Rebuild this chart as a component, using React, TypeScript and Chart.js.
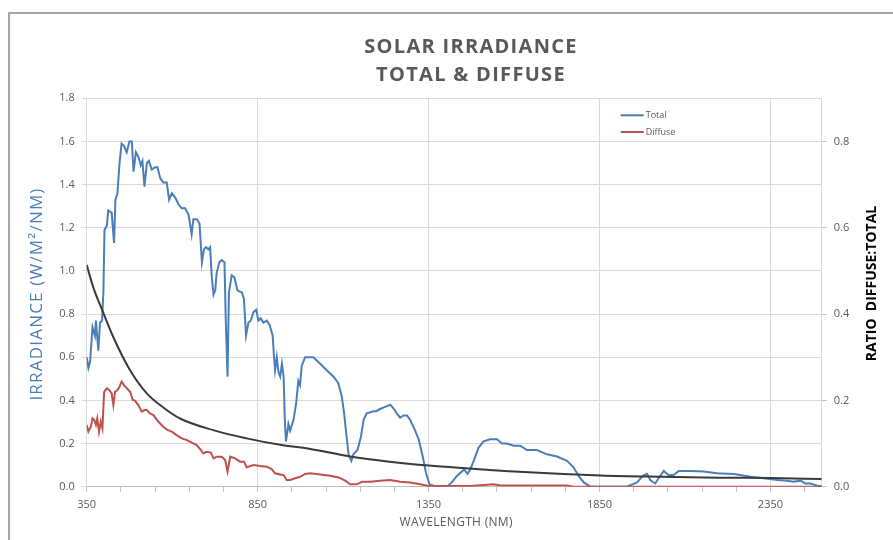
import React, { useEffect, useRef } from 'react';
import { Chart, registerables } from 'chart.js';

Chart.register(...registerables);

// ---- data ----
const totalWavelength = [
  350, 355, 360, 367, 374, 377, 384, 389, 395, 399, 402, 409, 413, 423, 430, 434, 440, 446, 452, 459,
  467, 475, 482, 487, 494, 501, 508, 513, 519, 526, 532, 540, 550, 557, 565, 574, 584, 591, 599, 609,
  618, 628, 638, 648, 657, 662, 672, 680, 687, 693, 699, 706, 711, 716, 721, 726, 730, 738, 745, 753,
  757, 762, 766, 774, 782, 791, 804, 810, 816, 823, 830, 838, 846, 852, 859, 867, 877, 885, 894, 898,
  901, 906, 911, 916, 921, 926, 930, 933, 940, 945, 955, 963, 969, 974, 979, 989, 999, 1013, 1033, 1052,
  1072, 1086, 1096, 1103, 1109, 1116, 1124, 1130, 1142, 1152, 1160, 1169, 1189, 1197, 1208, 1223, 1238, 1249, 1257, 1267,
  1277, 1287, 1296, 1308, 1321, 1333, 1343, 1353, 1374, 1404, 1418, 1433, 1454, 1464, 1472, 1482, 1496, 1511, 1530, 1550,
  1565, 1579, 1599, 1618, 1638, 1667, 1696, 1726, 1755, 1774, 1789, 1804, 1823, 1900, 1930, 1960, 1977, 1989, 1999, 2013,
  2026, 2038, 2052, 2067, 2082, 2116, 2155, 2194, 2243, 2292, 2331, 2370, 2399, 2418, 2438, 2452, 2467, 2487, 2500,
];
const totalIrradiance = [
  0.60, 0.55, 0.58, 0.74, 0.70, 0.77, 0.63, 0.76, 0.77, 0.91, 1.19, 1.21, 1.28, 1.27, 1.13, 1.33, 1.36, 1.50, 1.59, 1.58,
  1.55, 1.60, 1.60, 1.46, 1.55, 1.53, 1.49, 1.51, 1.39, 1.50, 1.51, 1.47, 1.48, 1.48, 1.43, 1.41, 1.41, 1.33, 1.36, 1.34,
  1.31, 1.29, 1.29, 1.26, 1.17, 1.24, 1.24, 1.22, 1.04, 1.10, 1.11, 1.10, 1.11, 0.97, 0.89, 0.91, 0.99, 1.04, 1.05, 1.04,
  0.76, 0.51, 0.90, 0.98, 0.97, 0.91, 0.90, 0.87, 0.70, 0.76, 0.77, 0.81, 0.82, 0.77, 0.78, 0.76, 0.77, 0.75, 0.70, 0.60,
  0.54, 0.60, 0.53, 0.51, 0.57, 0.51, 0.29, 0.21, 0.29, 0.26, 0.31, 0.39, 0.49, 0.47, 0.56, 0.60, 0.60, 0.60, 0.57, 0.54,
  0.51, 0.48, 0.42, 0.34, 0.25, 0.15, 0.12, 0.15, 0.17, 0.23, 0.31, 0.34, 0.35, 0.35, 0.36, 0.37, 0.38, 0.36, 0.34, 0.32,
  0.33, 0.33, 0.31, 0.27, 0.22, 0.14, 0.06, 0.01, 0.00, 0.00, 0.02, 0.05, 0.08, 0.06, 0.08, 0.12, 0.18, 0.21, 0.22, 0.22,
  0.20, 0.20, 0.19, 0.19, 0.17, 0.17, 0.15, 0.14, 0.12, 0.09, 0.05, 0.02, 0.00, 0.00, 0.00, 0.02, 0.05, 0.06, 0.03, 0.015,
  0.046, 0.073, 0.054, 0.054, 0.073, 0.073, 0.070, 0.062, 0.059, 0.046, 0.039, 0.031, 0.028, 0.023, 0.028, 0.015, 0.015, 0.005, 0.003,
];

const diffuseWavelength = [
  350, 355, 362, 367, 372, 377, 381, 386, 391, 396, 401, 409, 416, 423, 428, 433, 440, 446, 452, 459,
  467, 477, 485, 491, 501, 511, 519, 526, 535, 545, 560, 574, 586, 599, 613, 628, 643, 657, 672, 684,
  691, 701, 713, 721, 730, 745, 755, 762, 770, 784, 799, 810, 818, 838, 857, 877, 891, 901, 916, 926,
  935, 945, 960, 974, 989, 1004, 1033, 1062, 1087, 1106, 1121, 1140, 1155, 1179, 1208, 1238, 1267, 1296, 1326, 1350,
  1472, 1491, 1540, 1560, 1755, 1774, 2500,
];
const diffuseIrradiance = [
  0.286, 0.255, 0.278, 0.317, 0.309, 0.286, 0.317, 0.255, 0.301, 0.270, 0.440, 0.456, 0.448, 0.432, 0.378, 0.440, 0.448, 0.463, 0.487, 0.471,
  0.456, 0.440, 0.402, 0.399, 0.378, 0.348, 0.355, 0.355, 0.340, 0.332, 0.301, 0.278, 0.263, 0.255, 0.239, 0.224, 0.216, 0.204, 0.193, 0.170,
  0.154, 0.162, 0.158, 0.131, 0.139, 0.139, 0.124, 0.070, 0.139, 0.131, 0.116, 0.116, 0.090, 0.100, 0.096, 0.093, 0.082, 0.062, 0.057, 0.054,
  0.031, 0.031, 0.039, 0.046, 0.059, 0.062, 0.057, 0.051, 0.043, 0.028, 0.011, 0.011, 0.023, 0.023, 0.028, 0.031, 0.023, 0.019, 0.011, 0.003,
  0.003, 0.006, 0.011, 0.006, 0.006, 0.0, 0.0,
];

const ratioWavelength = [350, 370, 393, 427, 476, 525, 575, 623, 720, 818, 916, 1000, 1121, 1236, 1351, 1473, 1600, 1854, 2030, 2200, 2353, 2500];
const ratioValues = [0.514, 0.46, 0.414, 0.348, 0.271, 0.217, 0.183, 0.158, 0.131, 0.112, 0.097, 0.088, 0.070, 0.058, 0.049, 0.042, 0.035, 0.026, 0.023, 0.021, 0.020, 0.018];

const titleLines = ['SOLAR IRRADIANCE', 'TOTAL & DIFFUSE'];
const seriesNames = ['Total', 'Diffuse', 'Ratio'];
const xAxisTitle = 'WAVELENGTH (NM)';
const leftAxisTitle = 'IRRADIANCE (W/M²/NM)';
const rightAxisTitle = 'RATIO  DIFFUSE:TOTAL';
const xMin = 350;
const xMax = 2500;
const xMinorStep = 100;
const xMajorStep = 500;
const leftMax = 1.8;
const leftStep = 0.2;
const rightMax = 0.9;
const rightLastTick = 0.8;

const BLUE = '#4a7ebb';
const RED = '#c0504d';
const BLACK = '#3a3a3a';
const GRID = '#d9d9d9';
const TEXT = '#595959';
const FONT = '"Open Sans", "DejaVu Sans", sans-serif';

const W = 883;
const H = 526;

const overlayPlugin = {
  id: 'overlay',
  afterDraw(chart: any) {
    const ctx = chart.ctx as any;
    const a = chart.chartArea;
    ctx.save();
    // Title
    ctx.fillStyle = TEXT;
    ctx.font = `bold 20px ${FONT}`;
    ctx.textAlign = 'center';
    ctx.textBaseline = 'middle';
    ctx.letterSpacing = '1.3px';
    ctx.fillText(titleLines[0], 461, 33);
    ctx.fillText(titleLines[1], 461, 61);
    ctx.letterSpacing = '0px';

    // Legend
    const lx = a.left + 534;
    const ly = a.top + 17;
    ctx.font = `9px ${FONT}`;
    ctx.textAlign = 'left';
    [[seriesNames[0], BLUE], [seriesNames[1], RED]].forEach(([name, col], i) => {
      const y = ly + i * 16.7;
      ctx.strokeStyle = col as string;
      ctx.lineWidth = 2;
      ctx.beginPath();
      ctx.moveTo(lx, y);
      ctx.lineTo(lx + 23, y);
      ctx.stroke();
      ctx.fillStyle = TEXT;
      ctx.fillText(name as string, lx + 25, y);
    });

    // X axis title
    ctx.fillStyle = TEXT;
    ctx.font = `12px ${FONT}`;
    ctx.textAlign = 'center';
    ctx.letterSpacing = '0.3px';
    ctx.fillText(xAxisTitle, (a.left + a.right) / 2 + 2, 509);
    ctx.letterSpacing = '0px';

    // Left axis title
    ctx.save();
    ctx.translate(26.7, 280);
    ctx.rotate(-Math.PI / 2);
    ctx.fillStyle = BLUE;
    ctx.font = `17px ${FONT}`;
    ctx.letterSpacing = '1.2px';
    ctx.fillText(leftAxisTitle, 0, 0);
    ctx.restore();

    // Right axis title
    ctx.save();
    ctx.translate(861.7, 269.5);
    ctx.rotate(-Math.PI / 2);
    ctx.fillStyle = '#000000';
    ctx.font = `bold 14px ${FONT}`;
    ctx.fillText(rightAxisTitle, 0, 0);
    ctx.restore();

    ctx.restore();
  },
};

function toPoints(xs: number[], ys: number[]) {
  return xs.map((x, i) => ({ x, y: ys[i] }));
}

export default function App() {
  const ref = useRef<HTMLCanvasElement | null>(null);

  useEffect(() => {
    document.body.style.overflow = 'hidden';
    if (!ref.current) return;
    const chart = new Chart(ref.current, {
      type: 'line',
      data: {
        datasets: [
          {
            label: seriesNames[0],
            data: toPoints(totalWavelength, totalIrradiance),
            borderColor: BLUE,
            borderWidth: 2,
            pointRadius: 0,
            yAxisID: 'y',
            order: 2,
          },
          {
            label: seriesNames[1],
            data: toPoints(diffuseWavelength, diffuseIrradiance),
            borderColor: RED,
            borderWidth: 2,
            pointRadius: 0,
            yAxisID: 'y',
            order: 1,
          },
          {
            label: seriesNames[2],
            data: toPoints(ratioWavelength, ratioValues),
            borderColor: BLACK,
            borderWidth: 2,
            pointRadius: 0,
            cubicInterpolationMode: 'monotone',
            yAxisID: 'y1',
            order: 0,
          },
        ],
      },
      options: {
        animation: false,
        responsive: false,
        devicePixelRatio: 1,
        layout: { padding: { top: 84.3, left: 0, right: 0, bottom: 0 } },
        plugins: {
          legend: { display: false },
          title: { display: false },
          tooltip: { enabled: false },
        },
        scales: {
          x: {
            type: 'linear',
            min: xMin,
            max: xMax,
            afterBuildTicks: (scale: any) => {
              const t = [];
              for (let v = xMin; v <= xMax; v += xMinorStep) t.push({ value: v });
              scale.ticks = t;
            },
            afterFit: (scale: any) => {
              scale.height = 53.3;
            },
            ticks: {
              autoSkip: false,
              maxRotation: 0,
              padding: 7,
              color: TEXT,
              font: { family: FONT, size: 11 },
              callback: (v: any) => ((v - xMin) % xMajorStep === 0 ? String(v) : ''),
            },
            grid: {
              color: (c: any) =>
                c.tick && (c.tick.value - xMin) % xMajorStep === 0 ? GRID : 'rgba(0,0,0,0)',
              tickColor: '#bfbfbf',
              tickLength: 5,
            },
            border: { color: '#bfbfbf', width: 1 },
          },
          y: {
            type: 'linear',
            position: 'left',
            min: 0,
            max: leftMax,
            afterFit: (scale: any) => {
              scale.width = 76.7;
            },
            ticks: {
              stepSize: leftStep,
              padding: 7,
              color: TEXT,
              font: { family: FONT, size: 11 },
              callback: (v: any) => Number(v).toFixed(1),
            },
            grid: { color: GRID, tickColor: GRID, tickLength: 5 },
            border: { color: GRID, width: 1 },
          },
          y1: {
            type: 'linear',
            position: 'right',
            min: 0,
            max: rightMax,
            afterBuildTicks: (scale: any) => {
              scale.ticks = scale.ticks.filter((t: any) => t.value <= rightLastTick + 1e-9);
            },
            afterFit: (scale: any) => {
              scale.width = 71.3;
            },
            ticks: {
              stepSize: 0.2,
              padding: 7,
              color: TEXT,
              font: { family: FONT, size: 11 },
              callback: (v: any) => Number(v).toFixed(1),
            },
            grid: { drawOnChartArea: false, tickColor: '#bfbfbf', tickLength: 5 },
            border: { color: GRID, width: 1 },
          },
        },
      },
      plugins: [overlayPlugin],
    } as any);
    return () => chart.destroy();
  }, []);

  return (
    <div
      style={{
        position: 'absolute',
        left: 8,
        top: 12,
        width: 885,
        height: 528,
        boxSizing: 'border-box',
        borderTop: '2px solid #a6a6a6',
        borderLeft: '2px solid #a6a6a6',
        background: '#ffffff',
        overflow: 'hidden',
      }}
    >
      <canvas ref={ref} width={W} height={H} style={{ display: 'block', width: W, height: H }} />
    </div>
  );
}
